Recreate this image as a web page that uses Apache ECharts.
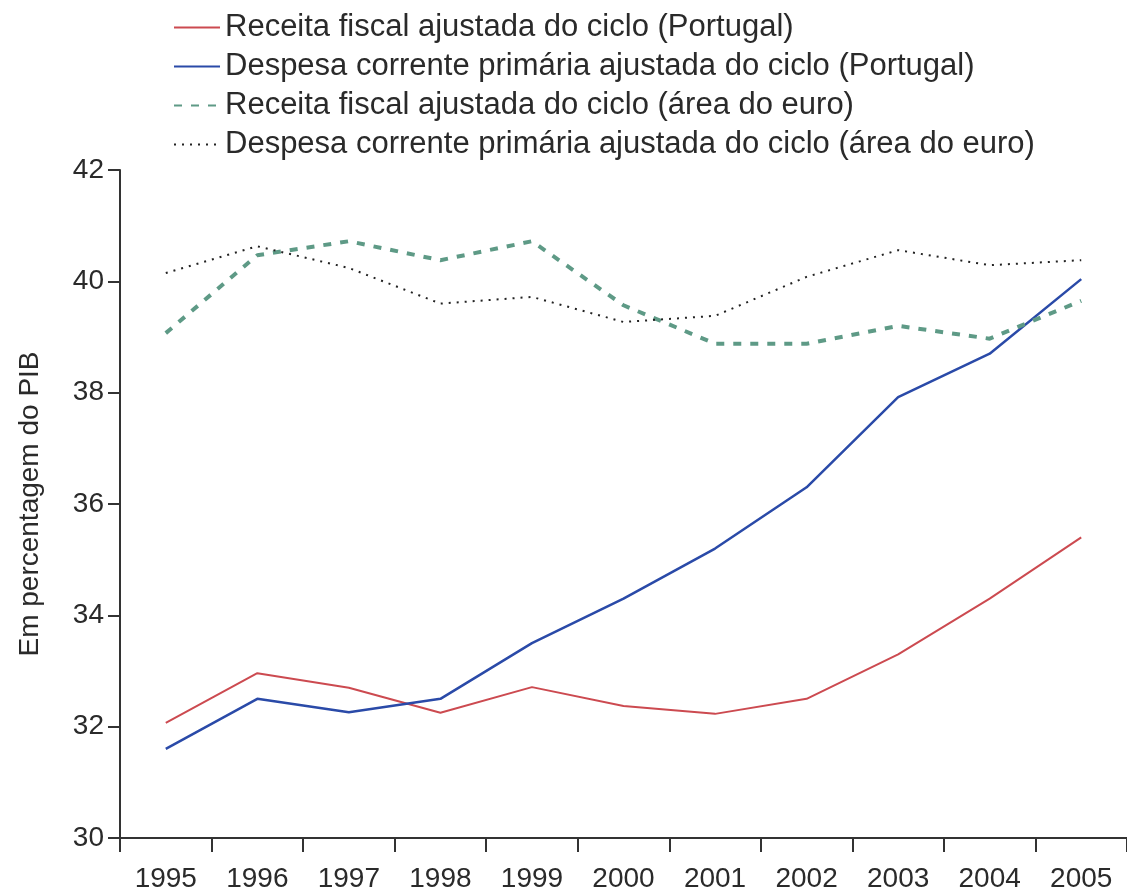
<!DOCTYPE html>
<html>
<head>
<meta charset="utf-8">
<script src="https://cdn.jsdelivr.net/npm/echarts@6/dist/echarts.min.js"></script>
<style>
  html, body { margin: 0; padding: 0; background: #fff; }
  #main { width: 1127px; height: 895px; }
</style>
</head>
<body>
<div id="main"></div>
<script>
var anos = ['1995', '1996', '1997', '1998', '1999', '2000', '2001', '2002', '2003', '2004', '2005'];
var receitaPT = [32.07, 32.96, 32.7, 32.25, 32.71, 32.37, 32.23, 32.5, 33.3, 34.3, 35.4];
var despesaPT = [31.6, 32.5, 32.26, 32.5, 33.5, 34.3, 35.2, 36.3, 37.92, 38.7, 40.04];
var receitaEuro = [39.07, 40.47, 40.72, 40.38, 40.72, 39.57, 38.88, 38.88, 39.2, 38.97, 39.65];
var despesaEuro = [40.15, 40.63, 40.24, 39.6, 39.72, 39.27, 39.38, 40.08, 40.56, 40.29, 40.38];

var myChart = echarts.init(document.getElementById('main'));

var fonte = 'Liberation Sans, Arial, sans-serif';

option = {
    animation: false,
    backgroundColor: '#fff',
    legend: {
        orient: 'vertical',
        left: 168,
        top: 7,
        itemWidth: 46,
        itemHeight: 14,
        itemGap: 8,
        itemStyle: { opacity: 0 },
        textStyle: {
            fontFamily: fonte,
            fontSize: 31,
            color: '#2a2a2a',
            lineHeight: 29
        }
    },
    grid: {
        left: 120,
        right: -4,
        top: 170,
        bottom: 57
    },
    xAxis: {
        type: 'category',
        data: anos,
        boundaryGap: true,
        axisLine: { lineStyle: { color: '#333', width: 2 } },
        axisTick: { show: true, length: 14, lineStyle: { color: '#333', width: 2 } },
        axisLabel: {
            margin: 27,
            fontFamily: fonte,
            fontSize: 28,
            color: '#2a2a2a'
        }
    },
    yAxis: {
        type: 'value',
        min: 30,
        max: 42,
        interval: 2,
        name: 'Em percentagem do PIB',
        nameLocation: 'middle',
        nameGap: 76,
        nameTextStyle: {
            fontFamily: fonte,
            fontSize: 28,
            color: '#2a2a2a'
        },
        axisLine: { show: true, lineStyle: { color: '#333', width: 2 } },
        axisTick: { show: true, length: 12, lineStyle: { color: '#333', width: 2 } },
        axisLabel: {
            margin: 16,
            fontFamily: fonte,
            fontSize: 28,
            color: '#2a2a2a'
        },
        splitLine: { show: false }
    },
    series: [
        {
            name: 'Receita fiscal ajustada do ciclo (Portugal)',
            type: 'line',
            data: receitaPT,
            symbol: 'none',
            lineStyle: { color: '#cc4a50', width: 2 },
            itemStyle: { color: '#cc4a50' }
        },
        {
            name: 'Despesa corrente primária ajustada do ciclo (Portugal)',
            type: 'line',
            data: despesaPT,
            symbol: 'none',
            lineStyle: { color: '#2a4aa8', width: 2.5 },
            itemStyle: { color: '#2a4aa8' }
        },
        {
            name: 'Receita fiscal ajustada do ciclo (área do euro)',
            type: 'line',
            data: receitaEuro,
            symbol: 'none',
            lineStyle: { color: '#5e9a86', width: 4, type: [8, 9] },
            itemStyle: { color: '#5e9a86' }
        },
        {
            name: 'Despesa corrente primária ajustada do ciclo (área do euro)',
            type: 'line',
            data: despesaEuro,
            symbol: 'none',
            lineStyle: { color: '#222', width: 2, type: [2, 6] },
            itemStyle: { color: '#222' }
        }
    ]
};

myChart.setOption(option);
window.onresize = myChart.resize;
</script>
</body>
</html>
